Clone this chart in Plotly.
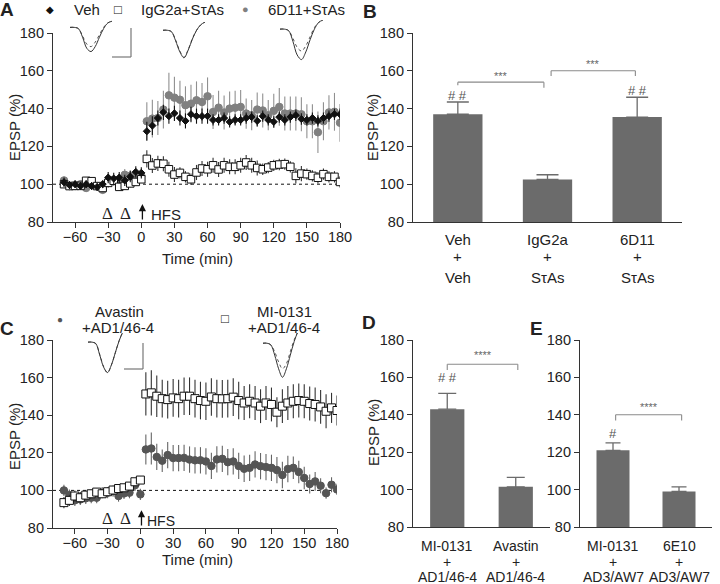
"""Multi-panel EPSP figure: LTP time courses (A, C) and summary bars (B, D, E)."""

import plotly.graph_objects as go

W, H = 720, 584

# ---- time courses -------------------------------------------------------
times = [-70, -65, -60, -55, -50, -45, -40, -35, -30, -25, -20, -15, -10, -5, 0,
         5, 10, 15, 20, 25, 30, 35, 40, 45, 50, 55, 60, 65, 70, 75, 80, 85, 90,
         95, 100, 105, 110, 115, 120, 125, 130, 135, 140, 145, 150, 155, 160,
         165, 170, 175, 180]

a_veh = [101, 99.5, 100, 99, 100, 99, 98.5, 100, 103.5, 103, 103.5, 102, 104, 106.5, 106,
         128, 131, 135, 138, 136, 137.5, 135, 133.5, 137, 136, 136, 136, 134, 134, 135, 133,
         134, 134, 135, 135.5, 133.5, 136, 134, 133, 135.5, 134, 135.5, 136.5, 134.5, 134,
         135, 133.5, 135, 136, 137, 137]
a_veh_err = [2.5, 2, 2, 2, 2, 2, 2, 2, 3, 3, 3, 3, 3, 3, 3,
             5, 5, 4, 4, 4, 4, 4, 4, 4, 4, 4, 4, 3, 3, 3, 3, 3, 3, 3, 3, 3, 3, 3, 3, 3,
             3, 3, 3, 3, 3, 3, 3, 3, 3, 3, 3]

a_igg = [100, 99, 99.1, 99.1, 101.8, 101.6, 99, 98, 100.7, 101.8, 98.6, 99.1, 100.4, 101.2, 102.6,
         113.4, 109.9, 111, 110.8, 107.9, 105.1, 106, 103.9, 102.6, 106.2, 108.3, 107.9, 110,
         107.8, 110, 109.2, 109.2, 110, 111.5, 110, 108.6, 107.9, 108.8, 110, 110.4, 110.6,
         109.2, 104.4, 105.6, 105.3, 104.4, 103.4, 105.3, 103.9, 103.9, 101.2]
a_igg_err = [2, 2, 2, 2, 2, 2, 2, 2, 2, 2, 2, 2, 2, 2, 2,
             4.5, 4, 4, 4, 4, 4, 3, 3, 3, 4, 4, 4, 4, 4, 4, 4, 4, 4, 4, 4, 4, 3, 3, 3, 3,
             3, 3, 4, 4, 3, 3, 3, 3, 3, 3, 3]

a_6d11 = [102, 99, 99, 100, 98, 100, 99, 97, 101, 102, 101.5, 105, 104.5, 103, 104.5,
          133.3, 134.7, 135, 139.5, 147, 145.8, 144.7, 141.8, 142.6, 144.4, 143.5, 146.5,
          138.2, 140.5, 137.9, 140, 140.5, 140.9, 137.4, 136.5, 139.5, 139, 136.5, 138.8,
          140.9, 137.4, 137.4, 137.4, 137, 133.3, 133.3, 127.5, 133.3, 138, 138.3, 132.5]
a_6d11_err = [2, 2, 2, 2, 2, 2, 2, 2, 3, 3, 3, 3, 3, 3, 3,
              10, 10, 9, 10, 12, 11, 10, 10, 10, 10, 10, 10, 9, 9, 9, 9, 9, 9, 8, 8, 9,
              9, 8, 9, 10, 9, 9, 9, 9, 9, 9, 11, 10, 9, 10, 10]

c_mi = [93.5, 94.7, 97, 96.1, 97.5, 98.2, 99.1, 98.2, 99.3, 100.2, 101, 101.4, 102.3, 104.6, 105.5,
        151.3, 151.9, 150.1, 148.8, 148.3, 149.2, 148.8, 150.1, 150.1, 148.8, 147.8, 147.4,
        149.7, 148.8, 148.7, 148.8, 149.6, 147.8, 146.5, 147.4, 146.5, 144.8, 146.5, 145.7,
        141.6, 144.8, 146.5, 147.4, 147.8, 147.4, 146.2, 145.7, 144.4, 142.1, 143.9, 142.5]
c_mi_err = [3, 3, 3, 3, 2, 2, 2, 2, 2, 2, 2, 2, 2, 2, 2,
            11.5, 12, 11, 10, 10, 10, 10, 10, 10, 10, 10, 10, 10, 10, 10, 10, 10, 10, 9, 9,
            9, 9, 9, 9, 8, 9, 9, 9, 9, 9, 9, 9, 9, 9, 8, 8]

c_ava = [100, 97.5, 94.7, 95.2, 95.8, 96.1, 96.1, 98.8, 98.8, 99.6, 97, 98.4, 98.8, 102.7, 97.9,
         121.8, 122.3, 117.8, 115.8, 118.8, 117.2, 117.2, 117.3, 116.4, 116, 116, 115.4, 113,
         116.5, 116.8, 115, 115.4, 113, 111.5, 112, 113.8, 112.9, 112.4, 112, 110.8, 108.2,
         111.4, 112, 109.8, 106.6, 103.4, 104.8, 102.5, 98.5, 103, 100.5]
c_ava_err = [3, 3, 3, 3, 3, 3, 3, 3, 3, 3, 3, 3, 3, 3, 3,
             8, 8.5, 7, 6, 7, 7, 7, 7, 7, 7, 7, 7, 7, 7, 7, 7, 7, 7, 7, 7, 7, 7, 7, 7, 7,
             7, 7, 6, 6, 6, 5, 5, 4, 3, 4, 3]

# ---- summary bars -------------------------------------------------------
b_groups = [("Veh", "+", "Veh"), ("IgG2a", "+", "SτAs"), ("6D11", "+", "SτAs")]
b_values = [137, 102.5, 135.5]
b_err = [6.5, 2.5, 10.5]

d_groups = [("MI-0131", "+", "AD1/46-4"), ("Avastin", "+", "AD1/46-4")]
d_values = [143, 101.5]
d_err = [8.5, 5]

e_groups = [("MI-0131", "+", "AD3/AW7"), ("6E10", "+", "AD3/AW7")]
e_values = [121, 99]
e_err = [4, 2.5]

# ---- example traces (insets), pre = dotted, post = solid ----------------
wave_t = [0, 1, 2, 3, 4, 5, 6, 7, 8, 9, 10]
veh_pre = [0, 0, -0.05, -0.35, -0.68, -0.78, -0.6, -0.3, 0.0, 0.18, 0.25]
veh_post = [0, 0, -0.05, -0.4, -0.85, -0.98, -0.78, -0.4, -0.05, 0.18, 0.25]
igg_pre = [0, 0, -0.05, -0.35, -0.75, -0.98, -0.7, -0.3, 0.0, 0.2, 0.3]
igg_post = [0, 0, -0.05, -0.38, -0.78, -1.0, -0.72, -0.32, 0.0, 0.2, 0.3]
d11_pre = [0, 0, -0.05, -0.3, -0.6, -0.72, -0.55, -0.25, 0.05, 0.22, 0.3]
d11_post = [0, 0, -0.05, -0.4, -0.85, -1.0, -0.75, -0.35, 0.0, 0.22, 0.3]
ava_pre = [0, 0, -0.05, -0.4, -0.8, -1.0, -0.75, -0.35, 0.05, 0.35, 0.55]
ava_post = [0, 0, -0.05, -0.42, -0.82, -1.0, -0.75, -0.35, 0.05, 0.35, 0.55]
mi_pre = [0, 0, -0.05, -0.25, -0.55, -0.75, -0.6, -0.25, 0.1, 0.35, 0.55]
mi_post = [0, 0, -0.05, -0.35, -0.75, -1.0, -0.75, -0.35, 0.05, 0.35, 0.55]

FONT = "Liberation Sans, Arial, sans-serif"
SERIF = "Liberation Serif, Times New Roman, serif"
INK = "#222222"
BAR = "#6b6b6b"
BRACKET = "#8a8a8a"


def px(x):
    return x / W


def py(y):
    return 1 - y / H


def dom(a, b, size):
    return [a / size, b / size] if size == W else [1 - b / size, 1 - a / size]


fig = go.Figure()


def series(axis, y, err, name, symbol, size, fill, line, errcolor):
    fig.add_trace(go.Scatter(
        x=times, y=y, mode="markers", name=name, showlegend=False,
        xaxis="x" + axis, yaxis="y" + axis,
        marker=dict(symbol=symbol, size=size, color=fill,
                    line=dict(color=line, width=1)),
        error_y=dict(type="data", array=err, color=errcolor, thickness=1.1, width=0),
    ))


series("", a_6d11, a_6d11_err, "6D11+SτAs", "circle", 7.5, "#808080", "#808080", "#909090")
series("", a_igg, a_igg_err, "IgG2a+SτAs", "square", 7.5, "white", "#111111", "#333333")
series("", a_veh, a_veh_err, "Veh", "diamond", 5.5, "#111111", "#111111", "#111111")
series("3", c_ava, c_ava_err, "Avastin+AD1/46-4", "circle", 7.5, "#555555", "#555555", "#666666")
series("3", c_mi, c_mi_err, "MI-0131+AD1/46-4", "square", 8, "white", "#111111", "#333333")


def bars(axis, values, err, halfcap):
    fig.add_trace(go.Bar(
        x=list(range(len(values))), y=values, base=0, width=0.55 if len(values) == 3 else 0.5,
        xaxis="x" + axis, yaxis="y" + axis, showlegend=False,
        marker=dict(color=BAR, line=dict(width=0)),
        error_y=dict(type="data", array=err, arrayminus=[0] * len(err), symmetric=False,
                     color=BAR, thickness=1.3, width=halfcap),
    ))


bars("2", b_values, b_err, 11)
bars("4", d_values, d_err, 9)
bars("5", e_values, e_err, 7.5)


# insets
def inset(axis, pre, post):
    fig.add_trace(go.Scatter(x=wave_t, y=pre, mode="lines", xaxis="x" + axis, yaxis="y" + axis,
                             line=dict(color="#555555", width=1, dash="dot", shape="spline"),
                             showlegend=False, hoverinfo="skip"))
    fig.add_trace(go.Scatter(x=wave_t, y=post, mode="lines", xaxis="x" + axis, yaxis="y" + axis,
                             line=dict(color="#333333", width=1, shape="spline"),
                             showlegend=False, hoverinfo="skip"))


inset("6", veh_pre, veh_post)
inset("7", igg_pre, igg_post)
inset("8", d11_pre, d11_post)
inset("9", ava_pre, ava_post)
inset("10", mi_pre, mi_post)

axis_style = dict(showline=True, linecolor="#333333", linewidth=1.2, ticks="outside",
                  ticklen=5, tickwidth=1.2, tickcolor="#333333", showgrid=False,
                  zeroline=False, automargin=False,
                  tickfont=dict(family=FONT, size=14.5, color=INK))
y_style = dict(axis_style, range=[80, 180], tickvals=[80, 100, 120, 140, 160, 180])
t_style = dict(axis_style, range=[-80, 180], ticklabelstandoff=-4,
               tickvals=[-60, -30, 0, 30, 60, 90, 120, 150, 180])
cat_style = dict(axis_style, ticks="", showticklabels=False)

panels = {
    "": (dom(53, 340, W), dom(33, 222, H), t_style),
    "2": (dom(413, 682, W), dom(33, 222, H), dict(cat_style, range=[-0.5, 2.5])),
    "3": (dom(53, 337, W), dom(340, 528, H), t_style),
    "4": (dom(413, 550, W), dom(340, 527, H), dict(cat_style, range=[-0.5, 1.5])),
    "5": (dom(580, 712, W), dom(340, 527, H), dict(cat_style, range=[-0.5, 1.5])),
}
layout = {}
for k, (xd, yd, xs) in panels.items():
    layout["xaxis" + k] = dict(xs, domain=xd, anchor="y" + k)
    layout["yaxis" + k] = dict(y_style, domain=yd, anchor="x" + k)

insets = {
    "6": (70, 112, 20, 54),
    "7": (163, 205, 22, 60),
    "8": (280, 323, 20, 62),
    "9": (88, 127, 333, 375),
    "10": (263, 302, 333, 380),
}
for k, (x0, x1, y0, y1) in insets.items():
    layout["xaxis" + k] = dict(domain=dom(x0, x1, W), anchor="y" + k, visible=False,
                               range=[0, 10], fixedrange=True)
    layout["yaxis" + k] = dict(domain=dom(y0, y1, H), anchor="x" + k, visible=False,
                               range=[-1.08, 0.3], fixedrange=True)

ann = []


def text(x, y, s, size=15, color=INK, bold=False, angle=0, xref="paper", yref="paper",
         family=FONT):
    ann.append(dict(x=x, y=y, xref=xref, yref=yref, text=f"<b>{s}</b>" if bold else s,
                    showarrow=False, textangle=angle, xanchor="center", yanchor="middle",
                    font=dict(family=family, size=size, color=color)))


# panel letters
for s, x, y in [("A", 7, 9), ("B", 370, 11), ("C", 7, 328), ("D", 369, 322), ("E", 536, 328)]:
    text(px(x), py(y), s, size=19, bold=True)

# y titles
for x, y in [(14, 128), (372, 128), (14, 437), (373, 433)]:
    text(px(x), py(y), "EPSP (%)", size=15, angle=-90)

# x titles
text(px(197), py(258), "Time (min)", size=15)
text(px(197), py(559), "Time (min)", size=15)

# legend A
text(px(50), py(9), "◆", size=10, color="#111111")
text(px(87), py(9), "Veh", size=15)
text(px(118), py(9), "□", size=13, color="#111111")
text(px(182), py(9), "IgG2a+SτAs", size=15)
text(px(245), py(9), "●", size=11, color="#808080")
text(px(306), py(9), "6D11+SτAs", size=15)

# legend C
text(px(60), py(319), "●", size=10, color="#555555")
text(px(119), py(311), "Avastin", size=15)
text(px(118), py(327), "+AD1/46-4", size=15)
text(px(225), py(318), "□", size=13, color="#111111")
text(px(284), py(311), "MI-0131", size=15)
text(px(284), py(327), "+AD1/46-4", size=15)

# treatment marks and HFS arrows
for yy in (213, 518):
    text(px(107), py(yy), "Δ", size=17, family=SERIF)
    text(px(125), py(yy), "Δ", size=17, family=SERIF)
for xr, yr, hx, hy, hs in [("x", "y", 166, 215, 15), ("x3", "y3", 161, 521, 14)]:
    ann.append(dict(x=1, y=89.5, xref=xr, yref=yr, ax=1, ay=80.5, axref=xr, ayref=yr,
                    showarrow=True, arrowhead=2, arrowsize=1.1, arrowwidth=1.3,
                    arrowcolor="#111111", text=""))
    text(px(hx), py(hy), "HFS", size=hs)


# category labels under bars
def cat_labels(axis, groups, ys, size):
    for i, g in enumerate(groups):
        for line, y in zip(g, ys):
            text(i, py(y), line, size=size, xref="x" + axis)


cat_labels("2", b_groups, [239, 257, 277], 15)
cat_labels("4", d_groups, [546, 562, 577], 14)
cat_labels("5", e_groups, [546, 562, 577], 14)

shapes = []


def bracket(axis, x0, x1, y, y0drop, y1drop, stars, star_y):
    xr, yr = "x" + axis, "y" + axis
    pts = [(x0, y0drop, x0, y), (x0, y, x1, y), (x1, y, x1, y1drop)]
    for a, b, c, d in pts:
        shapes.append(dict(type="line", xref=xr, yref=yr, x0=a, y0=b, x1=c, y1=d,
                           line=dict(color=BRACKET, width=1.1)))
    text((x0 + x1) / 2, star_y, stars, size=11, color="#666666", xref=xr, yref=yr)


bracket("2", 0, 0.96, 154, 152.3, 151, "***", 157)
bracket("2", 1.04, 1.98, 160, 157.3, 157.3, "***", 163.5)
bracket("4", 0, 1.03, 167, 164, 164, "****", 172)
bracket("5", 0.04, 1.04, 140, 137, 137, "****", 144)
text(0, 147, "# #", size=13, color="#555555", xref="x2", yref="y2")
text(2, 149.5, "# #", size=13, color="#555555", xref="x2", yref="y2")
text(0, 160, "# #", size=13, color="#555555", xref="x4", yref="y4")
text(0, 130, "#", size=13, color="#555555", xref="x5", yref="y5")

# 100 % reference lines
for xr, yr in [("x domain", "y"), ("x3 domain", "y3")]:
    shapes.append(dict(type="line", xref=xr, yref=yr, x0=0, x1=1, y0=100, y1=100,
                       line=dict(color="#111111", width=1, dash="dot"), layer="below"))

# scale bars next to first inset in A and C
for (hx0, hx1, yb, yt) in [(112, 131, 57, 28), (124, 143, 369, 343)]:
    shapes.append(dict(type="line", xref="paper", yref="paper", x0=px(hx0), x1=px(hx1),
                       y0=py(yb), y1=py(yb), line=dict(color="#777777", width=1.2)))
    shapes.append(dict(type="line", xref="paper", yref="paper", x0=px(hx1), x1=px(hx1),
                       y0=py(yb), y1=py(yt), line=dict(color="#777777", width=1.2)))

fig.update_layout(
    width=W, height=H,
    margin=dict(l=0, r=0, t=0, b=0, autoexpand=False),
    paper_bgcolor="white", plot_bgcolor="white",
    font=dict(family=FONT, size=14, color=INK),
    showlegend=False,
    annotations=ann, shapes=shapes,
    **layout,
)

# the page body has a default 8px margin; drop it so the figure sits at the window corner
fig.write_html("out.html", config={"displayModeBar": False},
               post_script="document.body.style.margin='0';document.body.style.overflow='hidden';")
